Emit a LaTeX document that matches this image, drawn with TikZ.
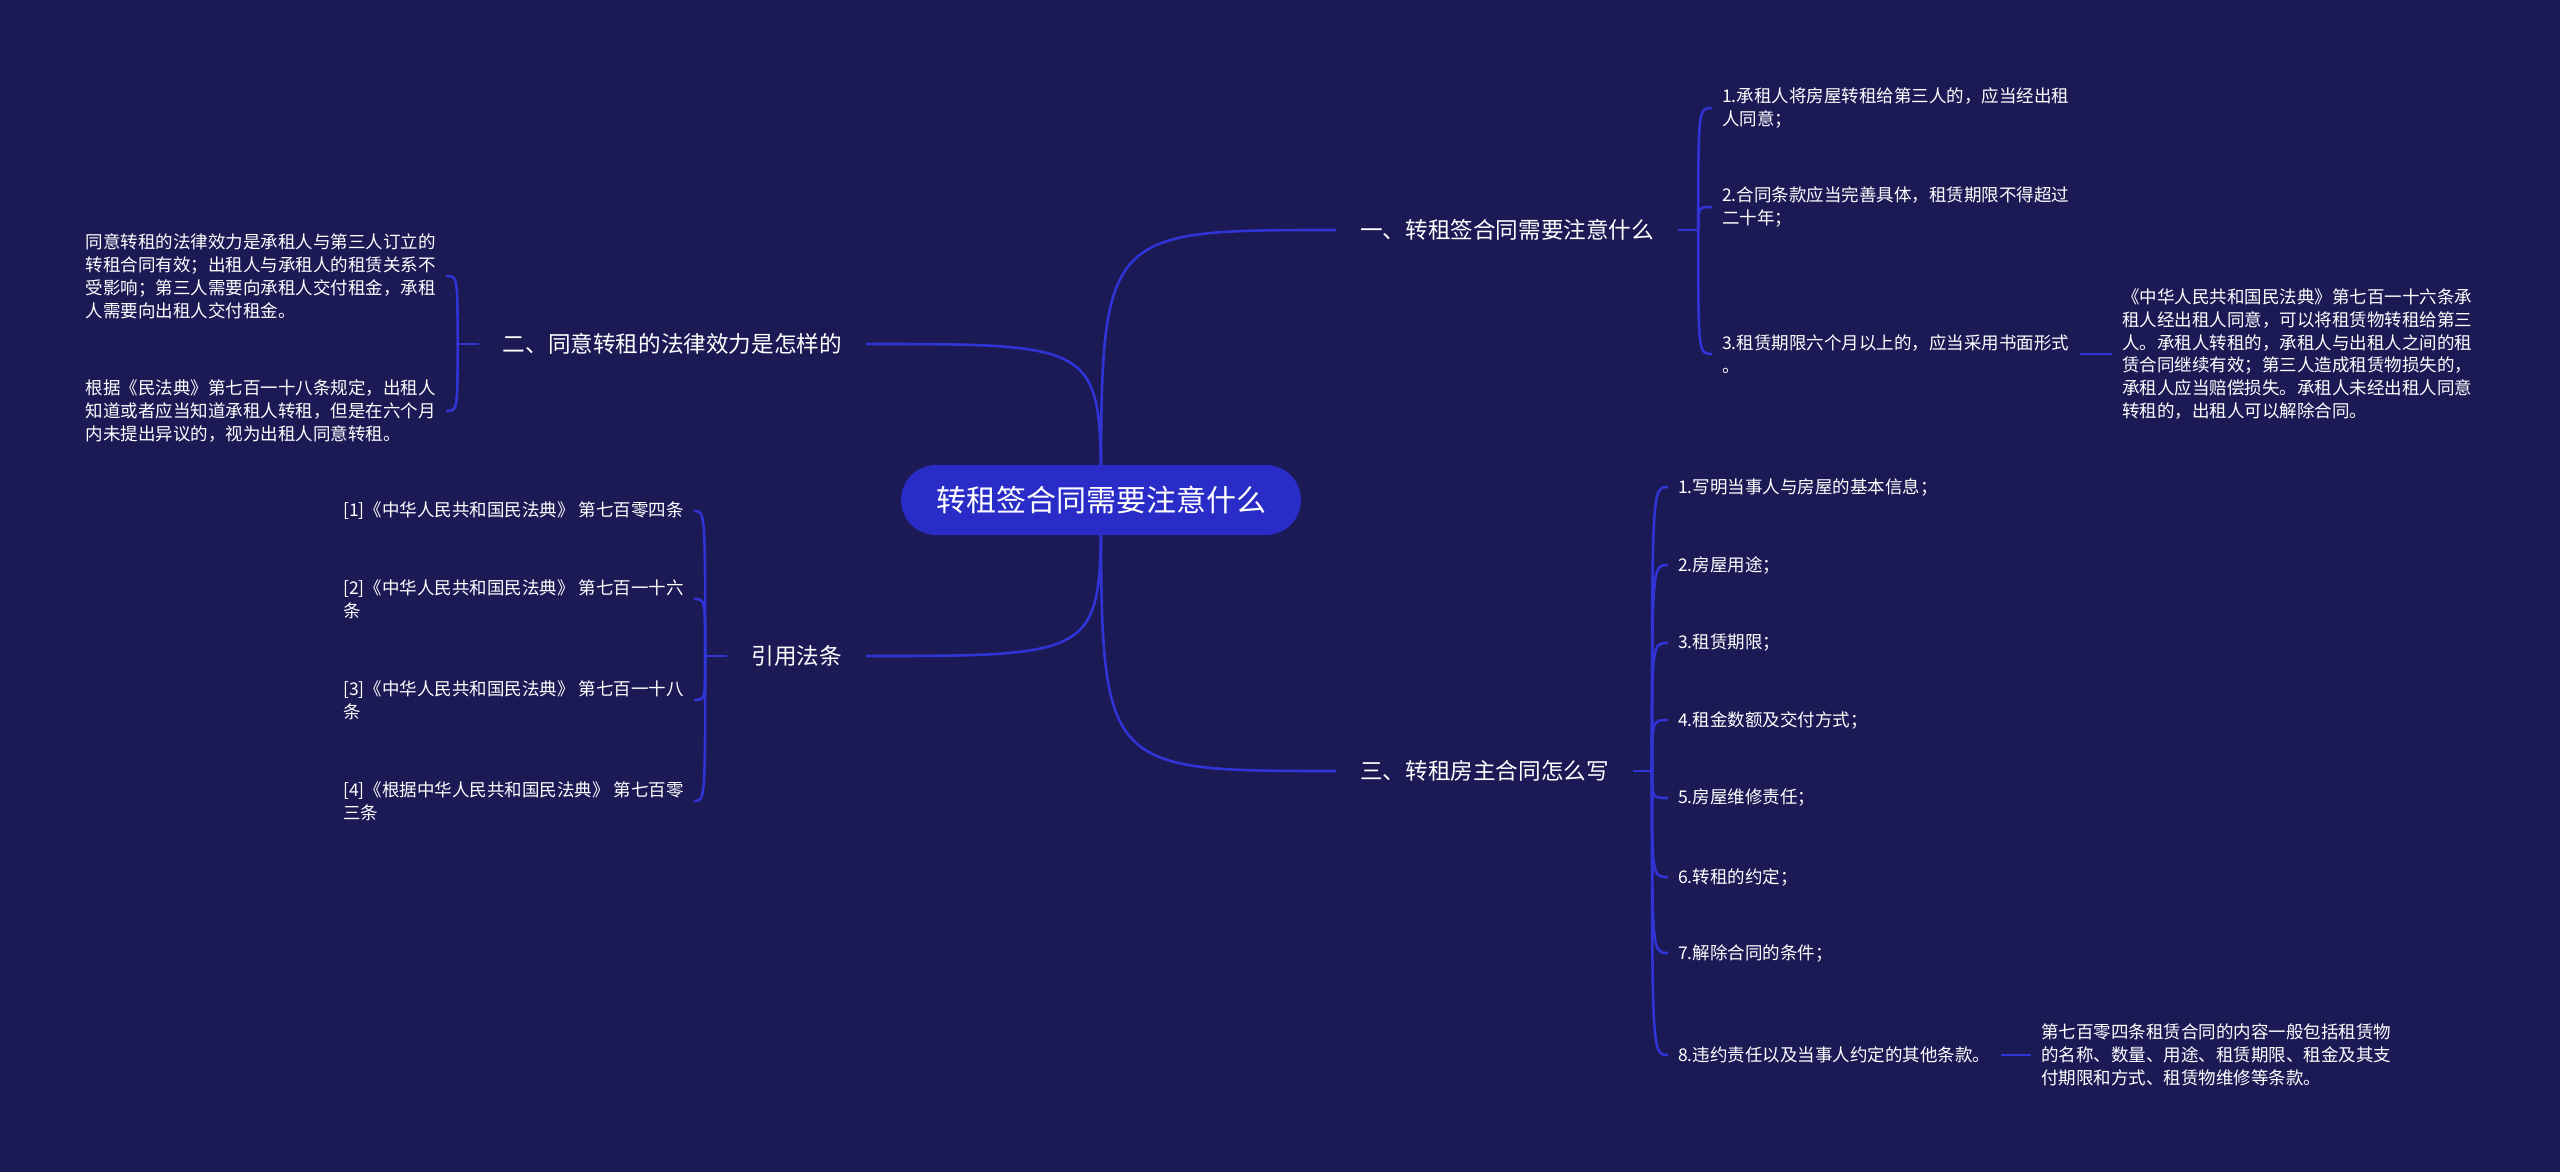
\documentclass[tikz,border=0pt]{standalone}
\usepackage{fontspec}
\setmainfont{Noto Sans CJK SC}
\definecolor{mapbg}{RGB}{28,26,85}
\definecolor{mapline}{RGB}{48,52,212}
\definecolor{maproot}{RGB}{42,44,200}
\newcommand{\rootfont}{\fontsize{30pt}{36pt}\selectfont}
\newcommand{\branchfont}{\fontsize{22.6pt}{28pt}\selectfont}
\newcommand{\leaffont}{\fontsize{17.5pt}{22.9pt}\selectfont}
\pgfdeclarelayer{back}
\pgfdeclarelayer{edges}
\pgfsetlayers{back,edges,main}
\tikzset{
  rootnode/.style={fill=maproot, rounded corners=35pt, minimum width=400pt, minimum height=70pt, inner sep=0pt, text=white, font=\rootfont},
  branchnode/.style={text=white, font=\branchfont, inner xsep=24pt, inner ysep=4pt},
  leafnode/.style={text=white, font=\leaffont, align=left, inner xsep=10pt, inner ysep=3pt},
  mapedge/.style={draw=mapline, line width=2.6pt},
}
\begin{document}
\begin{tikzpicture}[x=1pt, y=-1pt]
  \begin{pgfonlayer}{back}
    \fill[mapbg] (0,0) rectangle (2560,1172);
  \end{pgfonlayer}
  \useasboundingbox (0,0) rectangle (2560,1172);

  % centre
  \node[rootnode] (root) at (1101,500) {转租签合同需要注意什么};

  % main branches
  \node[branchnode, anchor=west] (b1) at (1336,230) {一、转租签合同需要注意什么};
  \node[branchnode, anchor=east] (b2) at (866,344) {二、同意转租的法律效力是怎样的};
  \node[branchnode, anchor=east] (b3) at (866,656) {引用法条};
  \node[branchnode, anchor=west] (b4) at (1336,771) {三、转租房主合同怎么写};

  % branch 1
  \node[leafnode, anchor=west] (l11) at (1712,108) {1.承租人将房屋转租给第三人的，应当经出租\\人同意；};
  \node[leafnode, anchor=west] (l12) at (1712,207) {2.合同条款应当完善具体，租赁期限不得超过\\二十年；};
  \node[leafnode, anchor=west] (l13) at (1712,354) {3.租赁期限六个月以上的，应当采用书面形式\\。};
  \node[leafnode, anchor=west] (l131) at (2112,354) {《中华人民共和国民法典》第七百一十六条承\\租人经出租人同意，可以将租赁物转租给第三\\人。承租人转租的，承租人与出租人之间的租\\赁合同继续有效；第三人造成租赁物损失的，\\承租人应当赔偿损失。承租人未经出租人同意\\转租的，出租人可以解除合同。};

  % branch 2
  \node[leafnode, anchor=east] (l21) at (446,276) {同意转租的法律效力是承租人与第三人订立的\\转租合同有效；出租人与承租人的租赁关系不\\受影响；第三人需要向承租人交付租金，承租\\人需要向出租人交付租金。};
  \node[leafnode, anchor=east] (l22) at (446,411) {根据《民法典》第七百一十八条规定，出租人\\知道或者应当知道承租人转租，但是在六个月\\内未提出异议的，视为出租人同意转租。};

  % branch 3
  \node[leafnode, anchor=east] (l31) at (694,511) {[1]《中华人民共和国民法典》 第七百零四条};
  \node[leafnode, anchor=east] (l32) at (694,599) {[2]《中华人民共和国民法典》 第七百一十六\\条};
  \node[leafnode, anchor=east] (l33) at (694,700) {[3]《中华人民共和国民法典》 第七百一十八\\条};
  \node[leafnode, anchor=east] (l34) at (694,801) {[4]《根据中华人民共和国民法典》 第七百零\\三条};

  % branch 4
  \node[leafnode, anchor=west] (l41) at (1668,487) {1.写明当事人与房屋的基本信息；};
  \node[leafnode, anchor=west] (l42) at (1668,565) {2.房屋用途；};
  \node[leafnode, anchor=west] (l43) at (1668,643) {3.租赁期限；};
  \node[leafnode, anchor=west] (l44) at (1668,720) {4.租金数额及交付方式；};
  \node[leafnode, anchor=west] (l45) at (1668,798) {5.房屋维修责任；};
  \node[leafnode, anchor=west] (l46) at (1668,877) {6.转租的约定；};
  \node[leafnode, anchor=west] (l47) at (1668,953) {7.解除合同的条件；};
  \node[leafnode, anchor=west] (l48) at (1668,1055) {8.违约责任以及当事人约定的其他条款。};
  \node[leafnode, anchor=west] (l481) at (2031,1055) {第七百零四条租赁合同的内容一般包括租赁物\\的名称、数量、用途、租赁期限、租金及其支\\付期限和方式、租赁物维修等条款。};

  \begin{pgfonlayer}{edges}
    % root to branches
    \draw[mapedge] (root.center) .. controls (root.center |- b1.west) .. (b1.west);
    \draw[mapedge] (root.center) .. controls (root.center |- b2.east) .. (b2.east);
    \draw[mapedge] (root.center) .. controls (root.center |- b3.east) .. (b3.east);
    \draw[mapedge] (root.center) .. controls (root.center |- b4.west) .. (b4.west);

    % brackets
    \draw[mapedge] (b1.east) -- ++(20,0) coordinate (b1x);
    \foreach \n in {l11,l12,l13}
      \draw[mapedge] (b1x) .. controls (b1x |- \n.west) .. (\n.west);
    \draw[mapedge] (b2.west) -- ++(-21,0) coordinate (b2x);
    \foreach \n in {l21,l22}
      \draw[mapedge] (b2x) .. controls (b2x |- \n.east) .. (\n.east);
    \draw[mapedge] (b3.west) -- ++(-22,0) coordinate (b3x);
    \foreach \n in {l31,l32,l33,l34}
      \draw[mapedge] (b3x) .. controls (b3x |- \n.east) .. (\n.east);
    \draw[mapedge] (b4.east) -- ++(19,0) coordinate (b4x);
    \foreach \n in {l41,l42,l43,l44,l45,l46,l47,l48}
      \draw[mapedge] (b4x) .. controls (b4x |- \n.west) .. (\n.west);

    % leaf to leaf
    \draw[mapedge] (l13.east) -- (l131.west);
    \draw[mapedge] (l48.east) -- (l481.west);
  \end{pgfonlayer}
\end{tikzpicture}
\end{document}
